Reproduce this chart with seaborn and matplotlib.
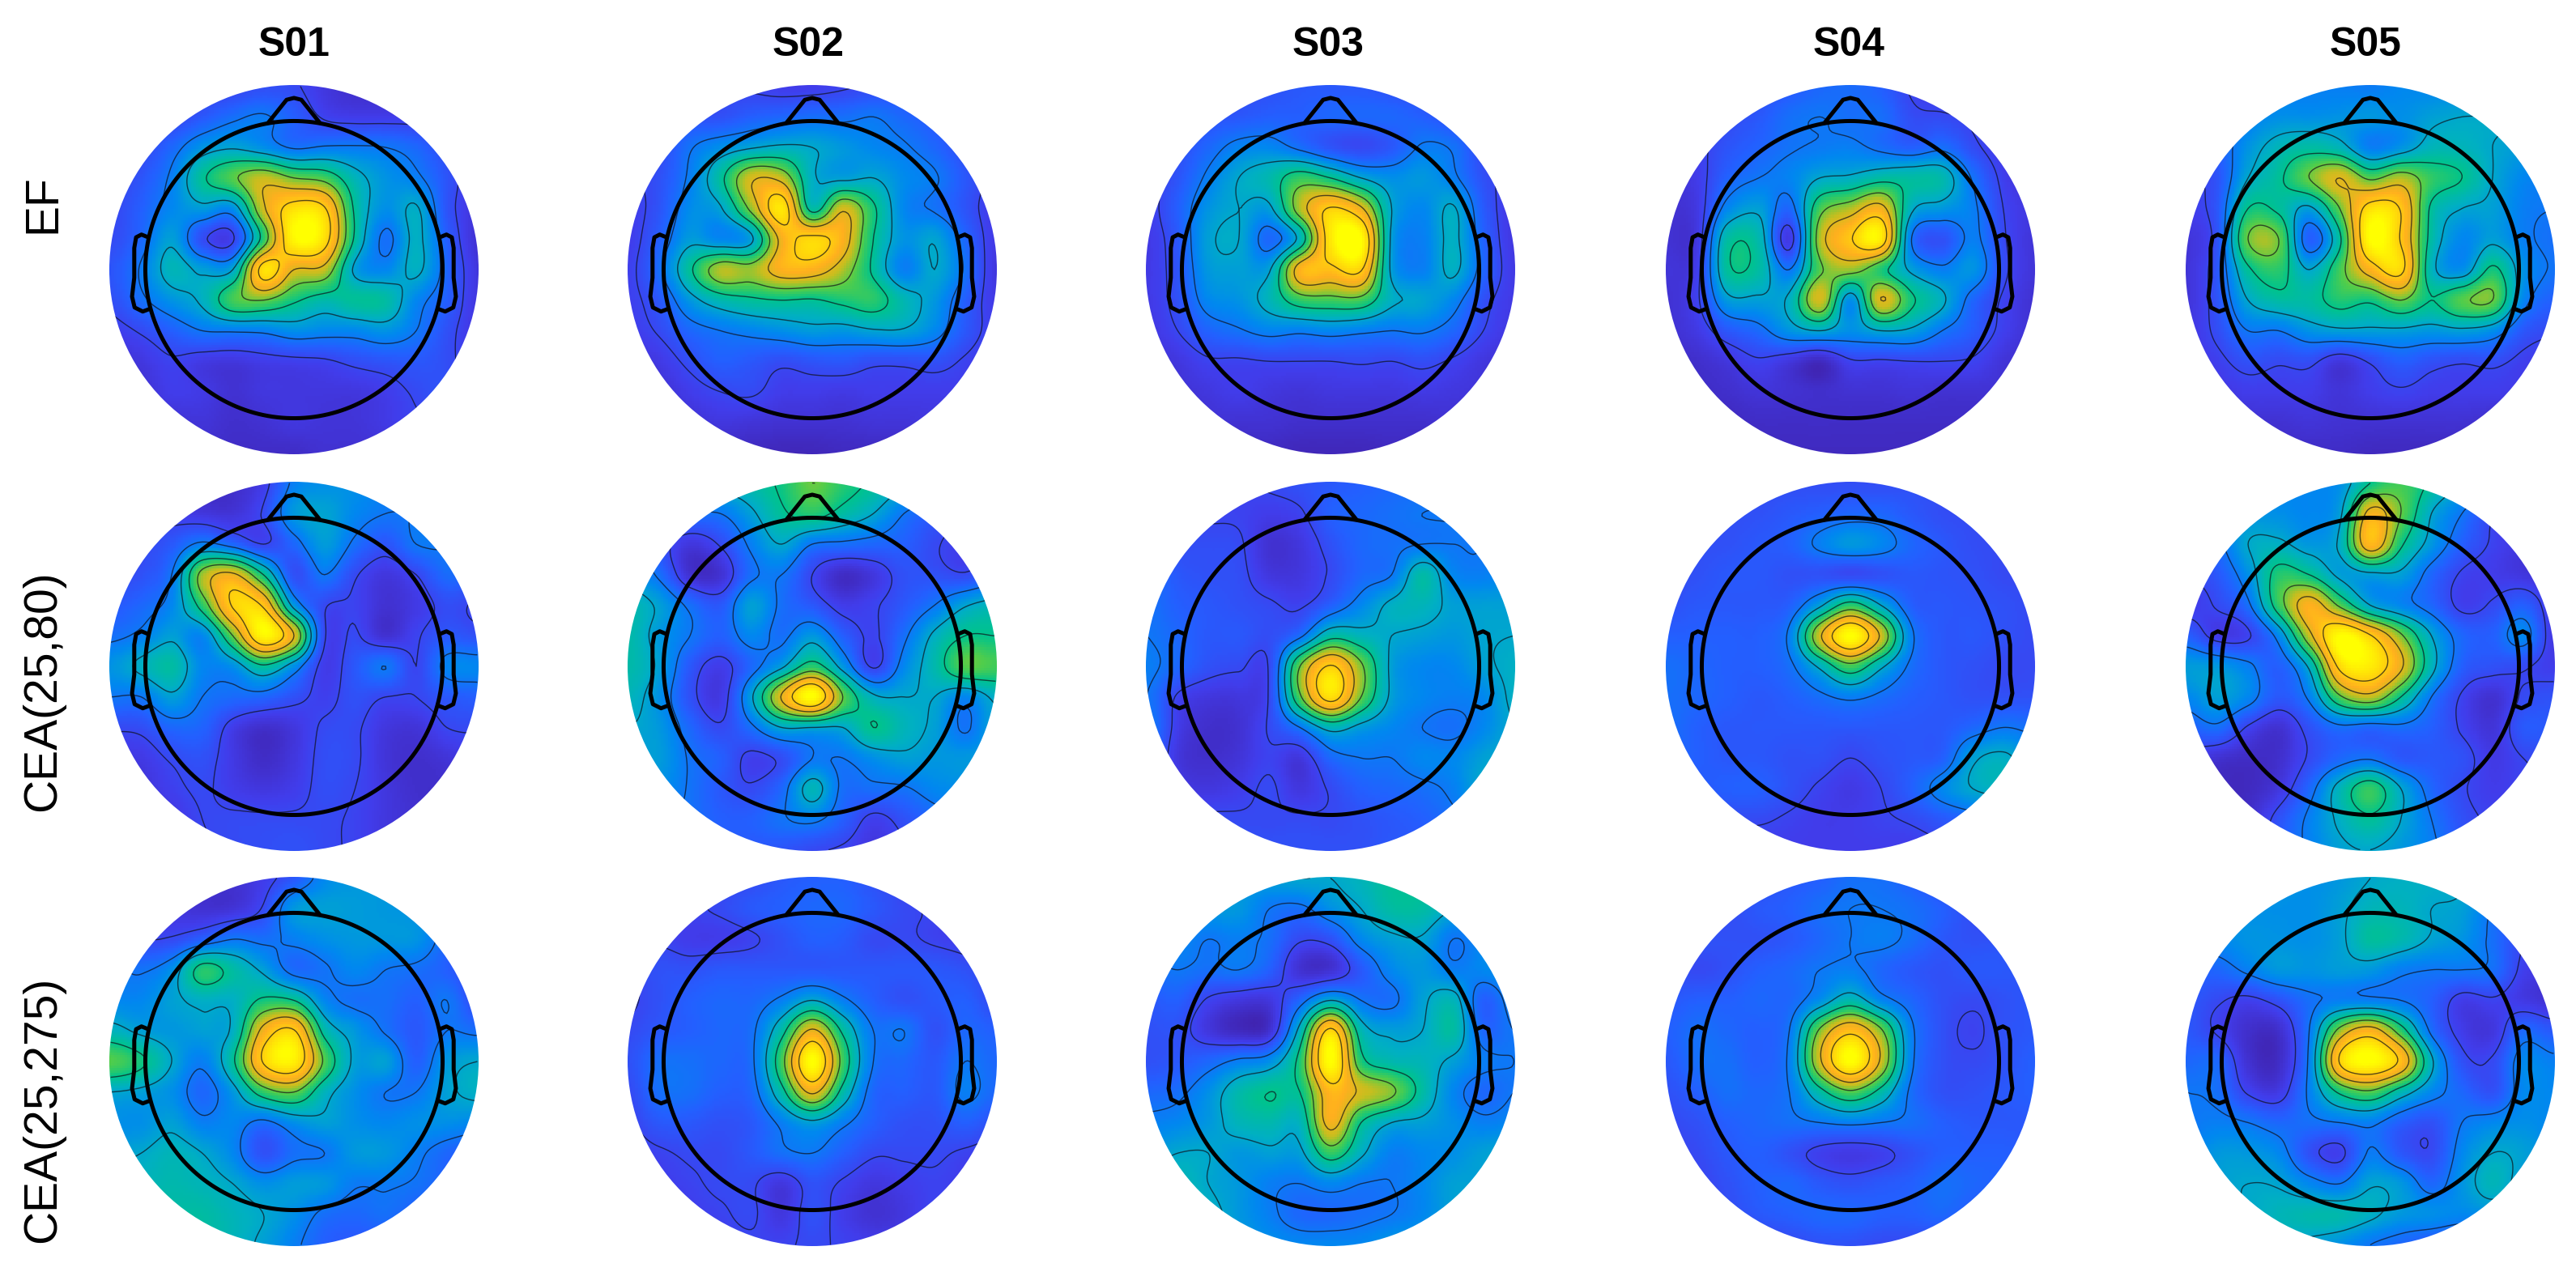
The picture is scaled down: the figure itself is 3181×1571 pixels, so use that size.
import numpy as np
import matplotlib
matplotlib.use('Agg')
import matplotlib.pyplot as plt
from matplotlib.patches import Circle
import seaborn as sns

# Scalp maps, 13 x 13 nodes across the disc, top row first.
# 0 = darkest purple, 100 = brightest yellow.

subjects = ['S01', 'S02', 'S03', 'S04', 'S05']
conditions = ['EF', 'CEA(25,80)', 'CEA(25,275)']

ef_s01 = [
    [8, 8, 8, 10, 12, 15, 14, 8, 5, 5, 5, 5, 5],
    [10, 10, 12, 18, 24, 27, 20, 12, 10, 10, 10, 8, 6],
    [12, 13, 22, 33, 37, 32, 25, 27, 27, 26, 22, 14, 8],
    [12, 17, 28, 48, 60, 70, 62, 58, 42, 33, 28, 17, 8],
    [13, 20, 30, 35, 32, 72, 92, 88, 48, 32, 39, 17, 7],
    [14, 22, 36, 15, 12, 55, 98, 92, 48, 24, 40, 20, 6],
    [17, 27, 42, 36, 38, 92, 74, 70, 36, 30, 40, 22, 8],
    [15, 24, 33, 40, 58, 62, 52, 45, 48, 46, 30, 20, 8],
    [10, 14, 20, 26, 27, 28, 32, 30, 30, 33, 26, 16, 8],
    [6, 8, 12, 9, 8, 10, 11, 12, 15, 17, 18, 15, 8],
    [6, 6, 10, 9, 6, 8, 8, 8, 8, 10, 14, 16, 8],
    [5, 5, 6, 7, 5, 6, 8, 7, 7, 9, 12, 12, 8],
    [5, 5, 5, 5, 4, 4, 4, 6, 6, 7, 8, 8, 8],
]
ef_s02 = [
    [12, 12, 12, 14, 12, 10, 10, 12, 14, 15, 15, 14, 14],
    [14, 14, 16, 16, 20, 22, 24, 24, 26, 22, 18, 14, 12],
    [12, 14, 25, 32, 37, 40, 38, 34, 30, 27, 22, 15, 12],
    [12, 16, 28, 47, 72, 70, 40, 36, 38, 31, 27, 18, 11],
    [10, 17, 31, 37, 65, 94, 46, 72, 52, 30, 25, 17, 9],
    [10, 20, 35, 30, 36, 78, 90, 80, 50, 33, 37, 22, 9],
    [11, 24, 48, 68, 66, 80, 80, 68, 48, 28, 38, 25, 8],
    [11, 18, 34, 44, 48, 50, 49, 53, 55, 43, 34, 20, 9],
    [10, 14, 22, 26, 29, 32, 35, 34, 37, 37, 30, 18, 10],
    [6, 9, 15, 20, 18, 15, 17, 18, 15, 15, 16, 12, 8],
    [5, 6, 10, 13, 14, 10, 10, 9, 10, 10, 10, 10, 8],
    [4, 5, 6, 8, 7, 6, 6, 6, 7, 7, 8, 8, 6],
    [3, 3, 3, 3, 3, 2, 2, 3, 3, 4, 5, 5, 6],
]
ef_s03 = [
    [8, 10, 12, 14, 16, 18, 18, 18, 16, 14, 12, 12, 12],
    [10, 14, 16, 18, 20, 20, 22, 22, 22, 20, 16, 14, 12],
    [10, 15, 22, 29, 30, 24, 17, 14, 18, 27, 25, 14, 11],
    [10, 17, 28, 38, 44, 56, 50, 38, 32, 34, 28, 16, 10],
    [10, 20, 33, 38, 36, 68, 88, 76, 38, 30, 39, 19, 8],
    [9, 18, 36, 38, 22, 42, 94, 100, 36, 28, 40, 21, 8],
    [9, 17, 34, 36, 37, 80, 84, 88, 36, 28, 40, 22, 9],
    [9, 16, 30, 33, 42, 56, 58, 58, 40, 37, 30, 16, 9],
    [8, 13, 21, 25, 29, 28, 30, 28, 26, 27, 22, 13, 8],
    [6, 8, 12, 12, 13, 13, 13, 14, 13, 15, 12, 8, 6],
    [4, 6, 8, 10, 8, 7, 8, 8, 8, 9, 8, 7, 5],
    [3, 3, 6, 6, 6, 5, 5, 5, 5, 5, 6, 6, 5],
    [3, 3, 3, 3, 3, 2, 2, 2, 3, 3, 4, 4, 4],
]
ef_s04 = [
    [10, 10, 12, 14, 18, 22, 23, 20, 12, 10, 10, 8, 8],
    [9, 10, 14, 18, 24, 26, 24, 24, 15, 14, 12, 10, 8],
    [8, 11, 17, 21, 25, 27, 28, 24, 20, 24, 15, 9, 6],
    [7, 10, 21, 26, 29, 38, 40, 46, 46, 44, 25, 11, 6],
    [6, 9, 30, 36, 22, 58, 68, 78, 40, 34, 28, 13, 8],
    [6, 9, 46, 44, 9, 68, 86, 95, 26, 16, 28, 14, 7],
    [7, 11, 48, 46, 26, 60, 66, 54, 36, 28, 33, 15, 7],
    [6, 12, 35, 36, 40, 72, 32, 74, 52, 40, 22, 12, 6],
    [6, 9, 18, 23, 33, 38, 32, 38, 36, 26, 19, 11, 6],
    [4, 5, 8, 12, 8, 3, 12, 12, 13, 13, 12, 7, 5],
    [3, 4, 5, 7, 6, 5, 6, 6, 7, 6, 6, 6, 5],
    [3, 3, 3, 4, 4, 4, 4, 4, 4, 4, 4, 4, 4],
    [3, 3, 3, 3, 3, 3, 3, 3, 3, 3, 3, 3, 3],
]
ef_s05 = [
    [28, 28, 28, 28, 28, 28, 27, 30, 30, 30, 30, 30, 30],
    [22, 23, 28, 32, 32, 33, 34, 32, 36, 38, 38, 38, 38],
    [18, 20, 33, 42, 46, 42, 28, 33, 42, 42, 38, 35, 35],
    [12, 17, 38, 48, 62, 74, 60, 68, 56, 50, 38, 30, 28],
    [10, 18, 50, 48, 36, 62, 92, 86, 48, 38, 36, 28, 26],
    [7, 17, 62, 62, 20, 48, 100, 86, 46, 30, 36, 28, 24],
    [7, 18, 48, 55, 38, 58, 80, 90, 42, 32, 52, 33, 25],
    [7, 17, 38, 46, 46, 54, 52, 62, 50, 60, 62, 30, 20],
    [8, 15, 26, 26, 33, 36, 36, 36, 34, 36, 32, 18, 14],
    [7, 11, 16, 14, 15, 8, 14, 20, 16, 14, 15, 11, 9],
    [6, 8, 10, 10, 10, 7, 10, 12, 10, 10, 10, 9, 8],
    [5, 5, 6, 6, 7, 6, 6, 6, 6, 6, 5, 5, 6],
    [4, 4, 4, 4, 4, 4, 3, 3, 3, 3, 3, 3, 4],
]

cea80_s01 = [
    [6, 6, 6, 5, 5, 10, 28, 32, 32, 28, 25, 22, 20],
    [8, 10, 10, 8, 7, 14, 34, 37, 30, 26, 26, 24, 20],
    [10, 13, 18, 28, 22, 13, 22, 35, 24, 17, 26, 26, 22],
    [14, 16, 26, 66, 76, 50, 16, 26, 14, 8, 13, 23, 20],
    [18, 22, 30, 55, 88, 85, 34, 14, 12, 6, 9, 15, 12],
    [24, 28, 36, 30, 62, 98, 74, 14, 14, 6, 12, 18, 16],
    [33, 40, 46, 30, 32, 48, 32, 10, 18, 26, 13, 29, 30],
    [26, 26, 36, 26, 23, 22, 16, 11, 16, 13, 13, 18, 20],
    [14, 15, 22, 21, 10, 5, 8, 14, 14, 8, 7, 13, 14],
    [9, 9, 14, 16, 9, 4, 8, 15, 14, 7, 5, 7, 10],
    [7, 7, 11, 14, 10, 8, 10, 15, 13, 8, 5, 5, 7],
    [6, 7, 8, 13, 14, 14, 14, 14, 12, 8, 6, 5, 6],
    [5, 6, 8, 12, 14, 15, 16, 14, 12, 8, 7, 6, 6],
]
cea80_s02 = [
    [45, 45, 45, 42, 45, 52, 62, 55, 48, 40, 40, 40, 40],
    [32, 30, 26, 26, 36, 48, 54, 46, 38, 26, 20, 18, 18],
    [32, 18, 8, 14, 28, 38, 26, 24, 22, 20, 14, 10, 10],
    [34, 24, 6, 6, 24, 26, 13, 4, 8, 16, 16, 14, 20],
    [44, 36, 24, 18, 36, 24, 18, 10, 12, 18, 26, 37, 42],
    [45, 34, 26, 20, 30, 24, 34, 20, 12, 24, 40, 50, 50],
    [45, 36, 18, 10, 22, 36, 55, 34, 12, 30, 44, 60, 58],
    [42, 32, 16, 9, 36, 75, 100, 62, 40, 38, 38, 30, 40],
    [38, 34, 22, 14, 24, 38, 38, 38, 50, 42, 36, 25, 37],
    [35, 35, 25, 20, 11, 15, 26, 26, 32, 36, 34, 34, 35],
    [33, 32, 25, 18, 14, 22, 42, 24, 24, 25, 30, 32, 35],
    [30, 26, 24, 20, 20, 25, 28, 20, 11, 16, 22, 28, 30],
    [26, 22, 20, 20, 18, 17, 14, 12, 8, 12, 18, 25, 28],
]
cea80_s03 = [
    [10, 10, 10, 12, 14, 16, 18, 20, 22, 24, 24, 24, 24],
    [10, 12, 12, 12, 10, 12, 20, 22, 24, 26, 26, 26, 28],
    [18, 15, 15, 14, 6, 8, 16, 22, 24, 26, 26, 26, 30],
    [25, 18, 16, 15, 8, 8, 14, 22, 26, 45, 30, 28, 32],
    [25, 20, 18, 16, 14, 12, 20, 30, 40, 42, 36, 36, 36],
    [26, 22, 18, 18, 15, 24, 46, 42, 38, 36, 34, 37, 38],
    [28, 22, 16, 14, 14, 62, 88, 64, 36, 30, 30, 36, 40],
    [26, 12, 8, 8, 14, 60, 92, 62, 36, 30, 28, 30, 40],
    [28, 10, 5, 6, 14, 26, 42, 35, 30, 26, 24, 30, 38],
    [24, 8, 5, 7, 12, 8, 22, 26, 26, 30, 30, 36, 40],
    [22, 10, 8, 10, 14, 8, 14, 20, 22, 24, 28, 38, 40],
    [20, 12, 14, 14, 14, 14, 14, 16, 18, 20, 24, 30, 32],
    [18, 14, 14, 16, 16, 16, 16, 16, 18, 18, 20, 24, 28],
]
cea80_s04 = [
    [12, 12, 13, 14, 15, 15, 15, 15, 16, 15, 12, 10, 10],
    [12, 14, 15, 16, 18, 20, 22, 22, 18, 15, 14, 12, 10],
    [12, 15, 16, 18, 20, 28, 34, 30, 22, 18, 15, 14, 12],
    [14, 16, 18, 18, 16, 16, 14, 16, 18, 17, 16, 14, 14],
    [16, 18, 18, 18, 20, 36, 55, 38, 20, 18, 17, 16, 14],
    [20, 20, 20, 20, 28, 72, 100, 72, 28, 18, 18, 16, 14],
    [24, 22, 20, 20, 24, 40, 58, 40, 24, 18, 16, 14, 14],
    [24, 22, 20, 18, 20, 24, 28, 24, 20, 18, 16, 16, 16],
    [24, 20, 18, 18, 18, 18, 18, 18, 18, 18, 22, 26, 24],
    [22, 20, 18, 18, 16, 16, 13, 16, 18, 20, 36, 40, 32],
    [16, 18, 20, 20, 16, 12, 9, 13, 20, 30, 38, 40, 32],
    [12, 14, 14, 14, 12, 10, 10, 12, 14, 18, 22, 26, 26],
    [8, 10, 10, 10, 10, 10, 10, 10, 10, 12, 14, 18, 20],
]
cea80_s05 = [
    [30, 30, 28, 30, 30, 32, 50, 58, 48, 36, 28, 20, 15],
    [26, 28, 32, 32, 30, 36, 78, 62, 38, 26, 14, 8, 8],
    [24, 24, 38, 40, 34, 40, 82, 52, 34, 20, 12, 8, 7],
    [14, 18, 32, 54, 50, 36, 36, 36, 22, 12, 10, 8, 6],
    [10, 14, 24, 56, 80, 60, 38, 30, 22, 11, 14, 20, 8],
    [20, 10, 12, 30, 70, 100, 88, 64, 38, 22, 20, 30, 8],
    [35, 34, 28, 20, 40, 90, 95, 76, 42, 20, 16, 14, 10],
    [30, 36, 30, 18, 28, 60, 70, 50, 26, 12, 6, 14, 16],
    [20, 24, 12, 6, 16, 24, 22, 24, 20, 12, 7, 18, 18],
    [10, 6, 4, 5, 14, 22, 25, 18, 18, 16, 9, 13, 15],
    [4, 3, 3, 8, 22, 42, 56, 38, 22, 14, 10, 12, 14],
    [3, 3, 5, 16, 28, 40, 48, 38, 26, 16, 12, 12, 14],
    [4, 4, 8, 18, 28, 36, 38, 34, 28, 18, 14, 14, 14],
]

cea275_s01 = [
    [12, 12, 10, 8, 6, 10, 18, 30, 34, 34, 32, 30, 24],
    [14, 9, 8, 6, 7, 14, 34, 36, 35, 34, 32, 26, 18],
    [26, 14, 14, 20, 26, 24, 28, 32, 34, 34, 33, 22, 14],
    [28, 25, 32, 54, 46, 36, 23, 25, 30, 26, 24, 20, 12],
    [30, 30, 36, 40, 40, 52, 50, 30, 24, 24, 20, 26, 14],
    [42, 36, 34, 36, 40, 78, 88, 46, 34, 25, 18, 26, 24],
    [60, 52, 38, 28, 48, 88, 96, 60, 36, 36, 20, 34, 38],
    [38, 36, 32, 22, 34, 56, 62, 42, 32, 26, 26, 36, 40],
    [32, 32, 36, 28, 30, 24, 32, 36, 32, 30, 32, 32, 30],
    [36, 38, 42, 38, 30, 16, 24, 26, 34, 34, 28, 22, 18],
    [42, 42, 44, 42, 38, 32, 35, 34, 27, 27, 25, 20, 12],
    [46, 46, 46, 46, 42, 38, 32, 24, 22, 24, 20, 18, 12],
    [48, 48, 48, 46, 42, 36, 28, 20, 18, 18, 18, 14, 12],
]
cea275_s02 = [
    [10, 10, 10, 12, 14, 18, 20, 20, 16, 12, 8, 8, 8],
    [10, 10, 12, 14, 18, 20, 22, 22, 18, 14, 12, 8, 8],
    [10, 12, 10, 10, 12, 16, 20, 19, 14, 14, 12, 10, 8],
    [12, 16, 16, 18, 18, 18, 18, 18, 18, 18, 18, 16, 12],
    [12, 16, 20, 22, 22, 28, 38, 28, 20, 16, 18, 20, 14],
    [14, 18, 20, 22, 24, 46, 76, 48, 26, 26, 16, 22, 20],
    [16, 24, 24, 22, 24, 58, 100, 58, 26, 22, 18, 26, 22],
    [14, 24, 24, 20, 22, 46, 76, 46, 22, 20, 18, 28, 22],
    [12, 18, 18, 16, 18, 28, 36, 28, 20, 16, 16, 20, 16],
    [10, 12, 14, 14, 18, 24, 26, 20, 14, 14, 14, 12, 10],
    [8, 10, 12, 14, 14, 8, 16, 12, 8, 10, 12, 10, 8],
    [8, 8, 10, 12, 14, 8, 16, 10, 6, 8, 12, 10, 8],
    [8, 8, 8, 10, 12, 12, 14, 12, 10, 10, 10, 10, 8],
]
cea275_s03 = [
    [34, 34, 34, 34, 36, 38, 38, 42, 48, 48, 48, 44, 42],
    [32, 32, 34, 34, 26, 24, 32, 38, 46, 46, 38, 34, 34],
    [28, 30, 26, 28, 24, 14, 16, 30, 36, 37, 26, 30, 32],
    [24, 26, 24, 26, 20, 6, 6, 18, 30, 34, 28, 30, 34],
    [18, 20, 12, 8, 8, 22, 38, 26, 24, 36, 42, 20, 30],
    [16, 16, 8, 3, 6, 42, 90, 44, 36, 38, 46, 22, 26],
    [16, 18, 22, 28, 32, 54, 100, 54, 44, 42, 36, 28, 26],
    [22, 24, 32, 44, 50, 50, 82, 72, 64, 46, 30, 22, 26],
    [28, 30, 34, 42, 44, 42, 78, 50, 38, 36, 32, 28, 30],
    [34, 38, 38, 34, 36, 36, 56, 40, 28, 30, 32, 36, 38],
    [44, 44, 38, 34, 28, 26, 30, 26, 26, 30, 36, 36, 36],
    [52, 50, 42, 34, 28, 22, 22, 24, 26, 30, 36, 36, 36],
    [52, 50, 46, 36, 32, 30, 30, 30, 34, 36, 38, 38, 38],
]
cea275_s04 = [
    [10, 10, 12, 14, 18, 20, 24, 24, 20, 14, 10, 10, 10],
    [10, 12, 14, 18, 20, 24, 26, 26, 24, 20, 14, 10, 10],
    [14, 16, 16, 16, 18, 22, 26, 28, 24, 18, 16, 16, 14],
    [16, 14, 16, 20, 22, 26, 28, 22, 18, 16, 18, 18, 16],
    [18, 20, 20, 22, 22, 32, 44, 30, 22, 16, 14, 16, 18],
    [20, 24, 22, 20, 26, 64, 84, 64, 28, 16, 12, 16, 18],
    [18, 24, 24, 20, 28, 72, 100, 72, 28, 16, 14, 16, 20],
    [16, 20, 24, 22, 26, 46, 60, 46, 24, 16, 16, 18, 20],
    [14, 16, 20, 22, 24, 26, 28, 26, 24, 20, 18, 18, 18],
    [12, 14, 18, 20, 16, 11, 9, 11, 16, 20, 20, 20, 18],
    [10, 12, 16, 20, 22, 18, 16, 18, 20, 24, 22, 20, 18],
    [10, 10, 14, 18, 20, 22, 22, 20, 20, 22, 18, 14, 12],
    [10, 10, 10, 12, 14, 16, 16, 14, 14, 14, 12, 10, 10],
]
cea275_s05 = [
    [34, 34, 34, 34, 32, 34, 38, 40, 40, 40, 38, 36, 34],
    [30, 30, 32, 32, 32, 36, 42, 42, 38, 36, 26, 20, 18],
    [28, 30, 33, 33, 32, 36, 47, 44, 37, 33, 24, 14, 12],
    [22, 22, 28, 34, 33, 35, 34, 28, 26, 26, 24, 11, 8],
    [18, 14, 11, 16, 24, 28, 28, 26, 20, 10, 12, 9, 6],
    [18, 12, 5, 5, 26, 66, 80, 56, 24, 10, 8, 22, 18],
    [22, 22, 6, 4, 28, 88, 100, 84, 40, 16, 14, 30, 28],
    [26, 24, 12, 9, 28, 52, 60, 44, 30, 22, 16, 30, 30],
    [26, 28, 26, 22, 24, 26, 28, 20, 16, 26, 30, 32, 30],
    [28, 34, 34, 30, 16, 11, 27, 18, 14, 30, 38, 36, 30],
    [32, 36, 38, 37, 30, 26, 37, 34, 22, 33, 42, 34, 28],
    [34, 36, 38, 42, 44, 44, 40, 34, 32, 30, 32, 30, 26],
    [32, 34, 36, 38, 36, 32, 26, 22, 18, 16, 18, 20, 22],
]

maps = [
    [ef_s01, ef_s02, ef_s03, ef_s04, ef_s05],
    [cea80_s01, cea80_s02, cea80_s03, cea80_s04, cea80_s05],
    [cea275_s01, cea275_s02, cea275_s03, cea275_s04, cea275_s05],
]

contour_levels = [13, 26, 38, 50, 62, 74, 87]

# layout in pixels of the 3181 x 1571 canvas
WIDTH, HEIGHT = 3181, 1571
RADIUS = 228
col_x = [363, 1003, 1643, 2285, 2927]
row_y = [333, 823, 1311]
title_x = [363, 998, 1640, 2283, 2921]
label_y = [252, 853, 1370]
HEAD_R = 0.805

parula = sns.blend_palette(
    ['#4023af', '#413ceb', '#235fff', '#0087f0', '#00afc3', '#00c38c',
     '#50cd4b', '#c8be1e', '#ffaf1e', '#ffd70a', '#ffff00'],
    as_cmap=True
)

# head drawing, unit = disc radius
nose_x = [-0.14, -0.04, 0.0, 0.04, 0.14]
nose_y = [0.795, 0.92, 0.93, 0.92, 0.795]
ear_x = [0.789, 0.826, 0.855, 0.865, 0.865, 0.877, 0.863, 0.819, 0.779]
ear_y = [0.175, 0.19, 0.175, 0.117, -0.044, -0.146, -0.205, -0.227, -0.212]


def refine(values, n=12):
    # cubic resampling along the first axis, so the shading is not blocky
    m = values.shape[0]
    t = np.linspace(0, m - 1, (m - 1) * n + 1)
    i = np.clip(np.floor(t).astype(int), 0, m - 2)
    f = (t - i)[:, None]
    p0 = values[np.clip(i - 1, 0, m - 1)]
    p1 = values[i]
    p2 = values[i + 1]
    p3 = values[np.clip(i + 2, 0, m - 1)]
    return 0.5 * (2 * p1 + (p2 - p0) * f
                  + (2 * p0 - 5 * p1 + 4 * p2 - p3) * f ** 2
                  + (3 * p1 - p0 - 3 * p2 + p3) * f ** 3)


def draw_map(ax, grid):
    field = refine(refine(np.array(grid, dtype=float)).T).T
    size = field.shape[0]

    sns.heatmap(field, ax=ax, cmap=parula, vmin=0, vmax=100, cbar=False,
                xticklabels=False, yticklabels=False)

    disc = Circle((size / 2, size / 2), size / 2, transform=ax.transData)
    ax.collections[0].set_clip_path(disc)

    centers = np.arange(size) + 0.5
    lines = ax.contour(centers, centers, field, levels=contour_levels,
                       colors='#101018', linewidths=1.0, alpha=0.7)
    lines.set_clip_path(disc)

    def to_x(x):
        return size / 2 * (1 + np.asarray(x))

    def to_y(y):
        return size / 2 * (1 - np.asarray(y))

    angle = np.linspace(0, 2 * np.pi, 400)
    outline = dict(color='black', lw=3.6, solid_joinstyle='round',
                   solid_capstyle='round')
    ax.plot(to_x(HEAD_R * np.cos(angle)), to_y(HEAD_R * np.sin(angle)), **outline)
    ax.plot(to_x(nose_x), to_y(nose_y), **outline)
    ax.plot(to_x(ear_x), to_y(ear_y), **outline)
    ax.plot(to_x(-np.array(ear_x)), to_y(ear_y), **outline)

    ax.set_xlim(0, size)
    ax.set_ylim(size, 0)
    ax.set_axis_off()


sns.set_theme(style='white')
plt.rcParams['font.family'] = ['Liberation Sans', 'DejaVu Sans']

fig = plt.figure(figsize=(WIDTH / 100, HEIGHT / 100), dpi=100)

for r, row in enumerate(maps):
    for c, grid in enumerate(row):
        ax = fig.add_axes([
            (col_x[c] - RADIUS) / WIDTH,
            1 - (row_y[r] + RADIUS) / HEIGHT,
            2 * RADIUS / WIDTH,
            2 * RADIUS / HEIGHT
        ])
        draw_map(ax, grid)

for c, name in enumerate(subjects):
    fig.text(title_x[c] / WIDTH, 1 - 69 / HEIGHT, name, fontsize=36,
             fontweight='bold', ha='center', va='baseline', color='black')

for r, name in enumerate(conditions):
    fig.text(68 / WIDTH, 1 - label_y[r] / HEIGHT, name, fontsize=41,
             rotation=90, ha='center', va='baseline', rotation_mode='anchor',
             color='black')

fig.savefig('out.png', dpi=100, facecolor='white')
